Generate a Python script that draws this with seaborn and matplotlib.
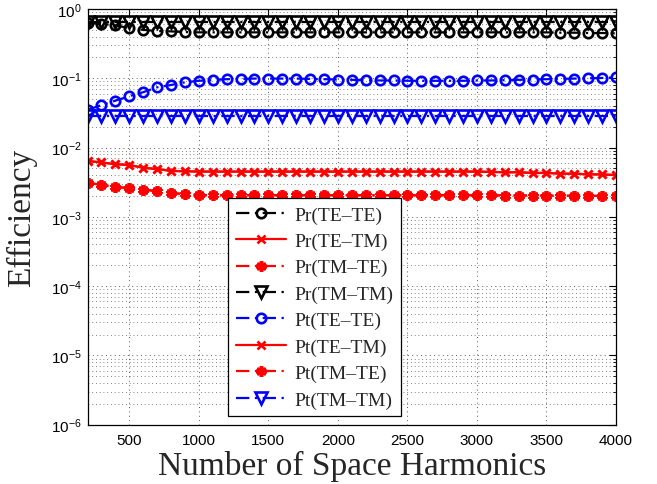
import numpy as np
import pandas as pd
import matplotlib
matplotlib.use("Agg")
import matplotlib.pyplot as plt
import seaborn as sns
from matplotlib.ticker import FixedLocator, NullFormatter, LogFormatterSciNotation

# ---- data ----
n_harm = list(range(200, 4001, 100))

pr_te_te = [0.63, 0.61, 0.58, 0.53, 0.50, 0.48, 0.475, 0.465, 0.46, 0.46,
            0.46, 0.46, 0.46, 0.46, 0.46, 0.46, 0.46, 0.46, 0.46, 0.46,
            0.46, 0.46, 0.46, 0.46, 0.46, 0.46, 0.46, 0.46, 0.46, 0.46,
            0.46, 0.46, 0.46, 0.46, 0.455, 0.455, 0.45, 0.45, 0.445]
pr_te_tm = [0.0064, 0.0061, 0.00575, 0.0056, 0.0051, 0.0049, 0.0046, 0.00455, 0.0045, 0.0045,
            0.0045, 0.0045, 0.0045, 0.0045, 0.0045, 0.0045, 0.0045, 0.0045, 0.0045, 0.0045,
            0.0045, 0.0045, 0.0045, 0.0045, 0.0045, 0.0045, 0.0045, 0.0045, 0.0045, 0.00445,
            0.0044, 0.0044, 0.0043, 0.0043, 0.0042, 0.0042, 0.0041, 0.0041, 0.0040]
pr_tm_te = [0.0031, 0.0029, 0.0027, 0.0026, 0.00248, 0.00234, 0.00222, 0.00212, 0.00205, 0.00205,
            0.00205, 0.00205, 0.00205, 0.00205, 0.00205, 0.00205, 0.00205, 0.00205, 0.00205, 0.00205,
            0.00205, 0.00205, 0.00205, 0.00205, 0.00205, 0.00205, 0.00205, 0.00205, 0.00205, 0.00205,
            0.00203, 0.00203, 0.00203, 0.00202, 0.00202, 0.00201, 0.00201, 0.002, 0.002]
pr_tm_tm = [0.64] * 39
pt_te_te = [0.035, 0.041, 0.0475, 0.055, 0.063, 0.074, 0.080, 0.0875, 0.092, 0.094,
            0.097, 0.098, 0.099, 0.099, 0.099, 0.099, 0.098, 0.097, 0.096, 0.095,
            0.094, 0.093, 0.093, 0.092, 0.092, 0.092, 0.092, 0.092, 0.093, 0.093,
            0.094, 0.095, 0.096, 0.097, 0.098, 0.099, 0.100, 0.101, 0.103]
pt_te_tm = list(pr_te_tm)
pt_tm_te = list(pr_tm_te)
pt_tm_tm = [0.029] * 39

x_ticks = [500, 1000, 1500, 2000, 2500, 3000, 3500, 4000]
y_ticks = [1e-6, 1e-5, 1e-4, 1e-3, 1e-2, 1e-1, 1e0]

labels = ["Pr(TE\u2013TE)", "Pr(TE\u2013TM)", "Pr(TM\u2013TE)", "Pr(TM\u2013TM)",
          "Pt(TE\u2013TE)", "Pt(TE\u2013TM)", "Pt(TM\u2013TE)", "Pt(TM\u2013TM)"]
series = [pr_te_te, pr_te_tm, pr_tm_te, pr_tm_tm, pt_te_te, pt_te_tm, pt_tm_te, pt_tm_tm]

dashdot = (0, (6, 2.5, 1, 2.5))
styles = [
    dict(color="black", ls=dashdot, marker="o", ms=6.8, mew=1.9),
    dict(color="red", ls="-", marker="x", ms=6, mew=1.9),
    dict(color="red", ls=dashdot, marker=(6, 2, 0), ms=7.5, mew=2.6),
    dict(color="black", ls=dashdot, marker="v", ms=8, mew=1.9),
    dict(color="blue", ls=dashdot, marker="o", ms=6.8, mew=1.9),
    dict(color="red", ls="-", marker="x", ms=6, mew=1.9),
    dict(color="red", ls=dashdot, marker=(6, 2, 0), ms=7.5, mew=2.6),
    dict(color="blue", ls=dashdot, marker="v", ms=8, mew=1.9),
]

sns.set_theme(style="white")
plt.rcParams["font.family"] = ["Liberation Sans", "DejaVu Sans"]
plt.rcParams["mathtext.fontset"] = "custom"
plt.rcParams["mathtext.rm"] = "Liberation Sans"
plt.rcParams["mathtext.it"] = "Liberation Sans"

fig, ax = plt.subplots(figsize=(6.57, 4.85), dpi=100)
fig.subplots_adjust(left=0.1333, right=0.9376, bottom=0.1223, top=0.9794)

handles = []
for lab, vals, st in zip(labels, series, styles):
    df = pd.DataFrame({"n": n_harm, "eff": vals})
    sns.lineplot(data=df, x="n", y="eff", ax=ax, color=st["color"],
                 linestyle=st["ls"], linewidth=1.6, marker=st["marker"],
                 markersize=st["ms"], markerfacecolor="none",
                 markeredgecolor=st["color"], markeredgewidth=st["mew"],
                 label=lab, legend=False)
    handles.append(ax.get_lines()[-1])

ax.set_yscale("log")
ax.set_ylim(1e-6, 1)
ax.set_xlim(200, 4000)
ax.xaxis.set_major_locator(FixedLocator(x_ticks))
ax.yaxis.set_major_locator(FixedLocator(y_ticks))
ax.yaxis.set_major_formatter(LogFormatterSciNotation())
minor_y = [m * 10.0 ** e for e in range(-6, 0) for m in range(2, 10)]
ax.yaxis.set_minor_locator(FixedLocator(minor_y))
ax.yaxis.set_minor_formatter(NullFormatter())

gridls = (0, (1, 3.5))
ax.grid(True, which="major", axis="both", color="0.35", linestyle=gridls, linewidth=0.7)
ax.grid(True, which="minor", axis="y", color="0.35", linestyle=gridls, linewidth=0.6)

for s in ax.spines.values():
    s.set_color("black")
    s.set_linewidth(0.9)
ax.tick_params(which="both", direction="in", top=True, right=True, colors="black")
ax.tick_params(which="major", length=5, width=0.8, labelsize=11, pad=6)
ax.tick_params(which="minor", length=2.5, width=0.6)
ax.tick_params(axis="y", which="major", pad=4)

ax.set_xlabel("Number of Space Harmonics", fontsize=24, family="Liberation Serif")
ax.set_ylabel("Efficiency", fontsize=24, family="Liberation Serif")
ax.xaxis.set_label_coords(0.5, -0.06)
ax.yaxis.set_label_coords(-0.095, 0.5)

leg = ax.legend(handles, labels, loc="lower left", bbox_to_anchor=(0.266, 0.02),
                prop={"family": "Liberation Serif", "size": 14},
                frameon=True, fancybox=False, framealpha=1, edgecolor="black",
                handlelength=2.6, handletextpad=0.4, labelspacing=0.45,
                borderpad=0.4, borderaxespad=0)
leg.get_frame().set_linewidth(0.9)

fig.savefig("out.png", dpi=100)
